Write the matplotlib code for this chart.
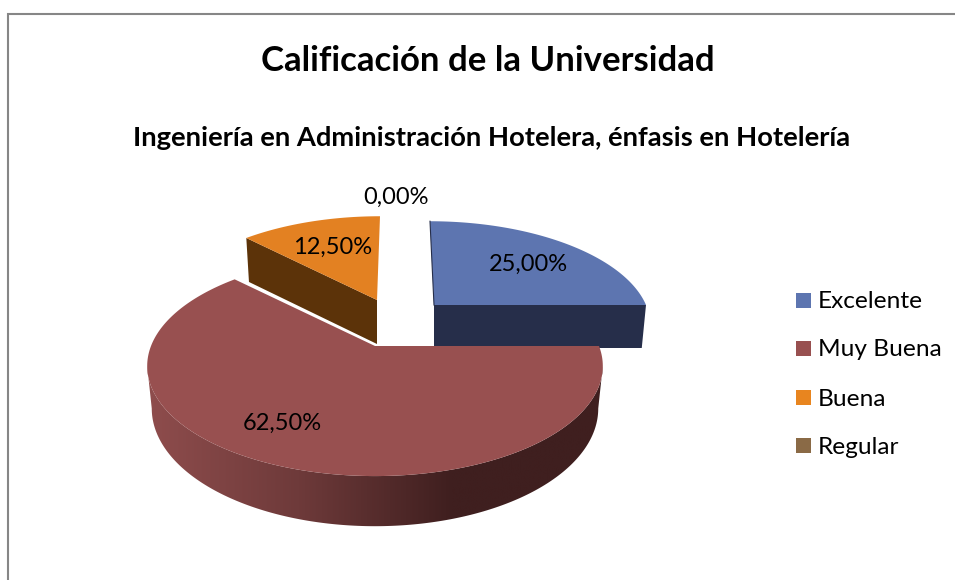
"""
Calificacion de la Universidad - 3D exploded pie drawn by hand in pixel coords
"""
import numpy as np
import matplotlib
matplotlib.use('Agg')
import matplotlib.pyplot as plt
from matplotlib.patches import Polygon, Rectangle
from matplotlib.colors import LinearSegmentedColormap

categories = ['Excelente', 'Muy Buena', 'Buena', 'Regular']
values = [25.0, 62.5, 12.5, 0.0]

title = 'Calificación de la Universidad'
subtitle = 'Ingeniería en Administración Hotelera, énfasis en Hotelería'

plt.rcParams['font.family'] = ['Lato', 'DejaVu Sans']

top_colors = ['#5d75b0', '#985050', '#e38122', '#8a6a46']
wall_colors = ['#262e4a', '#3f1f1f', '#5c3309', '#3a2c1c']
legend_colors = ['#5d75b0', '#985050', '#e8851f', '#8a6a46']

# per slice geometry: centre, radius, height, lean, wall depth (pixels)
geometry = [
    dict(cx=434, cy=305, R=212, H=99, lean=-4, depth=43, flat=True),
    dict(cx=375, cy=346, R=224, H=106.4, lean=0, depth=41, flat=False),
    dict(cx=377, cy=300, R=212, H=99, lean=3, depth=44, flat=True),
    dict(cx=375, cy=346, R=224, H=106.4, lean=0, depth=41, flat=False),
]
label_pos = [(528, 264), (282, 423), (333, 247), (396, 197)]
K = 0.182


def project(theta, g, bottom=False):
    """theta in degrees, clockwise from the top of the disc"""
    t = np.radians(theta)
    u, v = np.sin(t), np.cos(t)
    s = 1 / (1 + K * v)
    f = 0.98 if bottom else 1.0
    x = g['cx'] + g['R'] * f * u * s + g['lean'] * v
    y = g['cy'] - g['H'] * v * s
    if bottom:
        y = y + g['depth'] * (1 if g['flat'] else s)
    return x, y


fig = plt.figure(figsize=(9.55, 5.8), dpi=100)
ax = fig.add_axes([0, 0, 1, 1])

# chart frame
ax.plot([8, 8, 960], [585, 14, 14], color='#868686', lw=1.5, solid_joinstyle='miter')

ax.text(488, 61, title, ha='center', va='center', fontsize=25, weight='bold', color='black')
ax.text(491.5, 138, subtitle, ha='center', va='center', fontsize=19.7, weight='bold', color='black')

# slices, clockwise from the top
total = sum(values)
edges = np.cumsum([0] + values) / total * 360
# silhouette angles of the disc
sil_a = np.degrees(np.arccos(-K))
sil_b = 360 - sil_a
grad = LinearSegmentedColormap.from_list('wall', ['#8f4d4d', '#6e3a3a', '#3f1f1f', '#3f1f1f'])

for i in [0, 2, 1]:
    g = geometry[i]
    a, b = edges[i], edges[i + 1]
    th = np.linspace(a, b, 200)
    tx, ty = project(th, g)

    # side walls
    if i == 1:
        wa, wb = max(a, sil_a), min(b, sil_b)
        wth = np.linspace(wa, wb, 200)
        x1, y1 = project(wth, g)
        x2, y2 = project(wth, g, bottom=True)
        wall = Polygon(np.r_[np.c_[x1, y1], np.c_[x2, y2][::-1]], closed=True,
                       facecolor='none', edgecolor='none')
        ax.add_patch(wall)
        ramp = np.linspace(0, 1, 256).reshape(1, -1)
        im = ax.imshow(ramp, cmap=grad, extent=[145, 605, 540, 340], aspect='auto', zorder=2)
        im.set_clip_path(wall)
    else:
        # cut face of the exploded slice, facing the viewer
        end = b if i == 0 else a
        ex, ey = project(end, g)
        bx, by = project(end, g, bottom=True)
        ax.add_patch(Polygon([(g['cx'], g['cy']), (ex, ey), (bx, by),
                              (g['cx'], g['cy'] + g['depth'])],
                             facecolor=wall_colors[i], edgecolor='none', zorder=1))

    # top face
    pts = np.r_[[[g['cx'], g['cy']]], np.c_[tx, ty]]
    ax.add_patch(Polygon(pts, closed=True, facecolor=top_colors[i], edgecolor='none',
                         zorder=3 if i == 1 else 2))

# thin dark sliver on the left of the blue slice
g = geometry[0]
ax.plot([project(0, g)[0], g['cx']], [project(0, g)[1], g['cy']], color=wall_colors[0],
        lw=0.8, zorder=2)

# data labels
for val, (lx, ly) in zip(values, label_pos):
    ax.text(lx, ly, f'{val:.2f}'.replace('.', ',') + '%', ha='center', va='center',
            fontsize=17, color='black', zorder=5)

# legend
legend_y = [300, 348, 397, 445]
for name, col, ly in zip(categories, legend_colors, legend_y):
    ax.add_patch(Rectangle((796, ly - 7.5), 15, 15, facecolor=col, edgecolor='none'))
    ax.text(818, ly + 2, name, ha='left', va='center', fontsize=17.6, color='black')

ax.set_xlim(0, 955)
ax.set_ylim(580, 0)
ax.axis('off')

plt.savefig('out.png', dpi=100, facecolor='white')
plt.close()
